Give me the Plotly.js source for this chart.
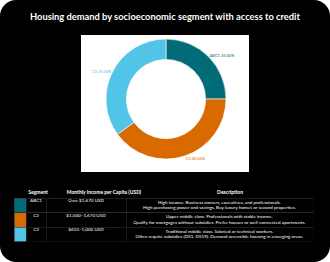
<!DOCTYPE html>
<html><head><meta charset="utf-8">
<script src="https://cdn.plot.ly/plotly-3.0.1.min.js"></script>
<style>
html,body{margin:0;padding:0;background:#ffffff;overflow:hidden;}
#wrap{position:relative;width:330px;height:262px;background:#000;border-radius:16px;overflow:hidden;}
#chart{position:absolute;left:0;top:0;transform-origin:0 0;}
</style></head>
<body><div id="wrap"><div id="chart"></div></div>
<script>
const segments = ['ABC1', 'C2', 'C3'];
const shares = [25, 40, 35];
const colors = ['#016c78', '#d86a00', '#52c4e7'];
const incomes = ['Over $1,670 USD', '$1,000–1,670 USD', '$610–1,000 USD'];
const descriptions = [
  'High income. Business owners, executives, and professionals.<br>High purchasing power and savings. Buy luxury homes or second properties.',
  'Upper middle class. Professionals with stable income.<br>Qualify for mortgages without subsidies. Prefer houses or well-connected apartments.',
  'Traditional middle class. Salaried or technical workers.<br>Often require subsidies (DS1, DS19). Demand accessible housing in emerging areas.'
];
const headers = ['', 'Segment', 'Monthly Income per Capita (USD)', 'Description'];

// Render at S times the size, then scale down, so the table's fixed cell padding shrinks.
const S = 8;
const W = 330, H = 262;
const p = v => v * S;
const fx = v => v / W, fy = v => 1 - v / H;
const FONT = 'Lato, "DejaVu Sans", sans-serif';

const el = document.getElementById('chart');
el.style.width = p(W) + 'px';
el.style.height = p(H) + 'px';

const pie = {
  type: 'pie',
  labels: segments,
  values: shares,
  sort: false,
  direction: 'clockwise',
  rotation: 0,
  hole: 0.66,
  marker: {colors: colors, line: {color: '#ffffff', width: p(0.6)}},
  textposition: 'outside',
  texttemplate: '%{label} %{percent:.2%}',
  textfont: {size: p(4), color: colors, family: FONT},
  outsidetextfont: {size: p(4), color: colors, family: FONT},
  automargin: false,
  showlegend: false,
  hoverinfo: 'none',
  domain: {x: [fx(106), fx(226)], y: [fy(159), fy(39)]}
};

const black = segments.map(() => '#000000');
const table = {
  type: 'table',
  domain: {x: [fx(14), fx(313)], y: [fy(241.5), fy(186)]},
  columnwidth: [12, 20, 80, 187],
  header: {
    values: headers.map(() => ''),
    height: p(12),
    fill: {color: '#000000'},
    line: {color: '#000000', width: 0}
  },
  cells: {
    values: [segments.map(() => ''), segments, incomes, descriptions],
    height: p(14.5),
    align: ['center', 'center', 'center', 'center'],
    fill: {color: [colors, black, black, black]},
    line: {color: '#2b3038', width: p(0.6)},
    font: {family: FONT, size: p(4.6), color: '#ffffff'}
  }
};

const headerX = [38, 104, 230];
const annotations = headers.slice(1).map((t, i) => ({
  text: '<b>' + t + '</b>', x: fx(headerX[i]), y: fy(192.5), xref: 'paper', yref: 'paper',
  showarrow: false, xanchor: 'center', yanchor: 'middle',
  font: {family: FONT, size: p(5), color: '#ffffff'}
}));

const layout = {
  width: p(W), height: p(H),
  margin: {l: 0, r: 0, t: 0, b: 0},
  paper_bgcolor: 'rgba(0,0,0,0)',
  title: {text: '<b>Housing demand by socioeconomic segment with access to credit</b>',
    x: 0.5, xanchor: 'center', y: fy(17), yanchor: 'middle', yref: 'paper',
    font: {family: FONT, size: p(9.3), color: '#ffffff'}},
  shapes: [{type: 'rect', xref: 'paper', yref: 'paper', x0: fx(81), x1: fx(249), y0: fy(172), y1: fy(35),
    fillcolor: '#ffffff', line: {width: 0}, layer: 'below'}],
  annotations: annotations
};

Plotly.newPlot('chart', [pie, table], layout, {displayModeBar: false, staticPlot: true})
  .then(() => {
    // centre every line of a multi-line cell, not only the block
    el.querySelectorAll('.table .cell-text').forEach(t => {
      const lines = Array.from(t.querySelectorAll('tspan.line'));
      if (lines.length < 2) return;
      const widths = lines.map(l => l.getComputedTextLength());
      const maxW = Math.max(...widths);
      lines.forEach((l, i) => l.setAttribute('x', (maxW - widths[i]) / 2));
    });
    el.style.transform = 'scale(' + (1 / S) + ')';
  });
</script></body></html>
